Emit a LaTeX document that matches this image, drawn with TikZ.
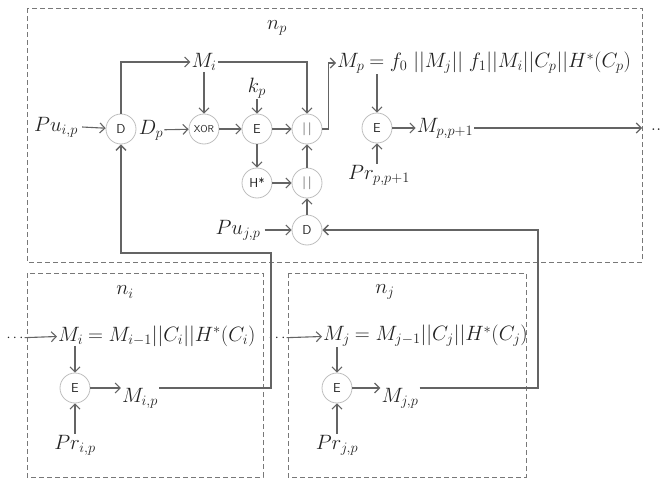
\documentclass[tikz,border=0pt]{standalone}
\usetikzlibrary{arrows.meta}
\definecolor{linegray}{RGB}{100,100,100}
\definecolor{circgray}{RGB}{190,190,190}
\definecolor{boxgray}{RGB}{120,120,120}
\definecolor{txt}{RGB}{35,35,35}
\begin{document}
\begin{tikzpicture}[x=1pt,y=-1pt,
  conn/.style={draw=linegray, line width=1.1pt, -{Straight Barb[length=5pt,width=10pt]}},
  thick conn/.style={conn, line width=1.4pt},
  op/.style={circle, draw=circgray, line width=0.8pt, minimum size=30pt, inner sep=0pt, text=txt, font=\sffamily\fontsize{13}{15}\selectfont},
  lbl/.style={inner sep=1pt, text=txt, font=\fontsize{21}{25}\selectfont},
  dots/.style={inner sep=1pt, text=txt, font=\fontsize{14}{16}\selectfont},
  box/.style={draw=boxgray, line width=0.8pt, dash pattern=on 5pt off 3pt}]
\useasboundingbox (0,0) rectangle (665,479);
% boxes
\draw[box] (27,8) rectangle (642,262);
\draw[box] (27,273) rectangle (263,477);
\draw[box] (288,273) rectangle (526,477);
% operator circles
\node[op] (D1) at (121,129) {D};
\node[op, font=\sffamily\fontsize{10}{12}\selectfont] (X) at (204,129) {XOR};
\node[op] (E1) at (257,129) {E};
\node[op] (C1) at (307,129) {|\,|};
\node[op] (H) at (257,183) {H*};
\node[op] (C2) at (307,183) {|\,|};
\node[op] (D2) at (307,230) {D};
\node[op] (E2) at (377,128) {E};
\node[op] (E3) at (75,388) {E};
\node[op] (E4) at (337,388) {E};
% labels
\node[lbl] (np) at (277,28) {$n_p$};
\node[lbl] (Pui) at (56,127) {$Pu_{i,p}$};
\node[lbl] (Mi) at (204,62) {$M_i$};
\node[lbl] (kp) at (257,88) {$k_p$};
\node[lbl] (Dp) at (151,130) {$D_p$};
\node[lbl] (Puj) at (238,230) {$Pu_{j,p}$};
\node[lbl, anchor=west] (Mp) at (336,63) {$M_p$};
\node[lbl, anchor=west, inner sep=0pt] (Mpeq) at (Mp.east) {$\,= f_0 \;\bigl|\bigl|M_j\bigr|\bigr|\; f_1||M_i||C_p||H^*(C_p)$};
\node[lbl] (Mpp) at (445,128) {$M_{p,p+1}$};
\node[lbl] (Prp) at (379,175) {$Pr_{p,p+1}$};
\node[lbl] (dr) at (656,130) {..};
\node[lbl] (ni) at (125,292) {$n_i$};
\node[lbl] (nj) at (385,292) {$n_j$};
\node[dots] (dl) at (15,338) {$\cdots$};
\node[lbl, anchor=west] (Mi2) at (57,336) {$M_i$};
\node[lbl, anchor=west, inner sep=0pt] (Mi2eq) at (Mi2.east) {$\,= M_{i-1}||C_i||H^*(C_i)$};
\node[lbl] (Mip) at (140,398) {$M_{i,p}$};
\node[lbl] (Pri) at (75,445) {$Pr_{i,p}$};
\node[dots] (dm) at (277,338) {$\cdots$};
\node[lbl, anchor=west] (Mj2) at (322,336) {$M_j$};
\node[lbl, anchor=west, inner sep=0pt] (Mj2eq) at (Mj2.east) {$\,= M_{j-1}||C_j||H^*(C_j)$};
\node[lbl] (Mjp) at (400,398) {$M_{j,p}$};
\node[lbl] (Prj) at (337,445) {$Pr_{j,p}$};
% helper coordinates
\coordinate (pend) at (642,128);
\coordinate (ci1) at (271,388);
\coordinate (ci2) at (271,253);
\coordinate (cj1) at (538,388);
\coordinate (cj2) at (538,230);
% connectors top box
\draw[conn] (Pui.east) ++(3,0) -- (D1);
\draw[conn] (D1.north) |- (Mi.west);
\draw[conn] (Mi) -- (X);
\draw[conn] (Mi.east) -| (C1.north);
\draw[conn] (kp) -- (E1);
\draw[conn] (Dp) -- (X);
\draw[conn] (X) -- (E1);
\draw[conn] (E1) -- (C1);
\draw[conn] (E1) -- (H);
\draw[conn] (H) -- (C2);
\draw[conn] (C2) -- (C1);
\draw[conn] (D2) -- (C2);
\draw[conn] (Puj.east) ++(3,0) -- (D2);
\draw[conn] (C1.east) -- ++(6,0) |- (Mp.west);
\draw[conn] (E2.north |- Mp.south) -- (E2.north);
\draw[conn] (E2) -- (Mpp);
\draw[conn] (Mpp.east) -- (pend);
\draw[conn] (Prp.north -| E2) -- (E2.south);
% lower boxes
\draw[conn] (dl) -- (Mi2);
\draw[conn] (Mi2.south -| E3) -- (E3);
\draw[conn] (E3) -- (Mip.west |- E3);
\draw[conn] (Pri) -- (E3);
\draw[conn] (dm) -- (Mj2);
\draw[conn] (Mj2.south -| E4) -- (E4);
\draw[conn] (E4) -- (Mjp.west |- E4);
\draw[conn] (Prj) -- (E4);
% long feedback lines
\draw[thick conn] (Mip.east |- E3) -- (ci1) -- (ci2) -| (D1.south);
\draw[thick conn] (Mjp.east |- E4) -- (cj1) -- (cj2) -- (D2.east);
\end{tikzpicture}
\end{document}
